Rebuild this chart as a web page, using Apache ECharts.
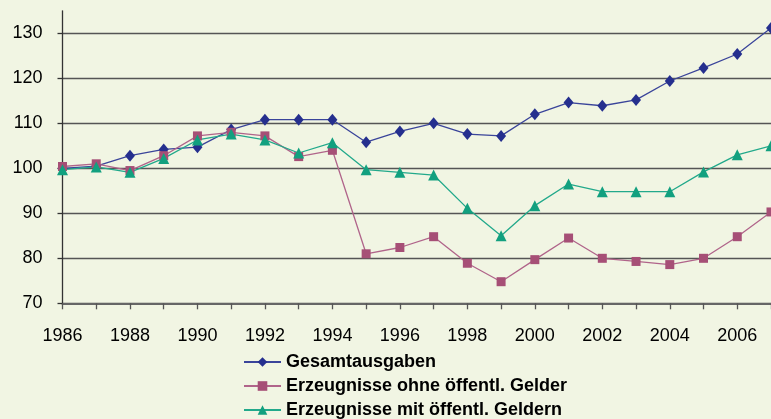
<!DOCTYPE html>
<html>
<head>
<meta charset="utf-8">
<script src="https://cdn.jsdelivr.net/npm/echarts@6/dist/echarts.min.js"></script>
<style>
  html, body { margin: 0; padding: 0; background: #f1f5e3; }
  #chart { width: 771px; height: 419px; }
</style>
</head>
<body>
<div id="chart"></div>
<script>
// Jahre
var years = ['1986','1987','1988','1989','1990','1991','1992','1993','1994','1995','1996',
             '1997','1998','1999','2000','2001','2002','2003','2004','2005','2006','2007'];
// Gesamtausgaben
var gesamt = [100, 100.5, 102.8, 104.2, 104.7, 108.6, 110.8, 110.8, 110.8, 105.8, 108.2,
              110.0, 107.6, 107.2, 112.0, 114.6, 113.9, 115.2, 119.4, 122.3, 125.4, 131.2];
// Erzeugnisse ohne öffentl. Gelder
var ohne = [100.4, 101.0, 99.5, 102.8, 107.2, 108.0, 107.2, 102.6, 104.0, 81.0, 82.4,
            84.8, 78.9, 74.8, 79.7, 84.5, 80.0, 79.3, 78.6, 80.0, 84.8, 90.3];
// Erzeugnisse mit öffentl. Geldern
var mit = [99.7, 100.3, 99.1, 102.2, 106.3, 107.6, 106.3, 103.4, 105.7, 99.7, 99.1,
           98.5, 91.1, 85.0, 91.7, 96.5, 94.8, 94.8, 94.8, 99.2, 103.0, 105.0];
var yTicks = [70, 80, 90, 100, 110, 120, 130];

var myChart = echarts.init(document.getElementById('chart'));

var font = '"Liberation Sans", Arial, sans-serif';

myChart.setOption({
  backgroundColor: '#f1f5e3',
  animation: false,
  grid: {
    left: 62.5,
    width: 712,
    top: 10.8,
    bottom: 115.7
  },
  legend: {
    orient: 'vertical',
    left: 243,
    top: 353,
    height: 70,
    padding: 0,
    itemWidth: 37,
    itemHeight: 12,
    itemGap: 6,
    textStyle: { fontFamily: font, fontSize: 18, lineHeight: 18, fontWeight: 'bold', color: '#000' },
    data: ['Gesamtausgaben', 'Erzeugnisse ohne öffentl. Gelder', 'Erzeugnisse mit öffentl. Geldern']
  },
  xAxis: {
    type: 'category',
    data: years,
    boundaryGap: false,
    axisLine: { lineStyle: { color: '#666', width: 2 } },
    axisTick: { show: true, inside: false, length: 6, interval: 0, lineStyle: { color: '#555', width: 1.3 } },
    axisLabel: { interval: 1, margin: 24, fontFamily: font, fontSize: 18, color: '#000' },
    splitLine: { show: false }
  },
  yAxis: {
    type: 'value',
    min: 70,
    max: 135,
    interval: 10,
    axisLine: { show: true, lineStyle: { color: '#333', width: 1.3 } },
    axisTick: { show: true, length: 5, customValues: yTicks, lineStyle: { color: '#333', width: 1.3 } },
    axisLabel: { margin: 20, fontFamily: font, fontSize: 18, color: '#000', customValues: yTicks },
    splitLine: {
      show: true,
      lineStyle: {
        color: ['#555', '#555', '#555', '#555', '#555', '#555', '#555', 'rgba(0,0,0,0)'],
        width: 1.4
      }
    }
  },
  series: [{
    name: 'Gesamtausgaben',
    type: 'line',
    data: gesamt,
    symbol: 'diamond',
    symbolSize: [10, 12],
    itemStyle: { color: '#252f8e' },
    lineStyle: { color: '#3a449a', width: 1.3 }
  }, {
    name: 'Erzeugnisse ohne öffentl. Gelder',
    type: 'line',
    data: ohne,
    symbol: 'rect',
    symbolSize: 9,
    itemStyle: { color: '#a64f76' },
    lineStyle: { color: '#b0648a', width: 1.3 }
  }, {
    name: 'Erzeugnisse mit öffentl. Geldern',
    type: 'line',
    data: mit,
    symbol: 'triangle',
    symbolSize: 11,
    itemStyle: { color: '#12a07f' },
    lineStyle: { color: '#22a98b', width: 1.3 }
  }]
});
</script>
</body>
</html>
